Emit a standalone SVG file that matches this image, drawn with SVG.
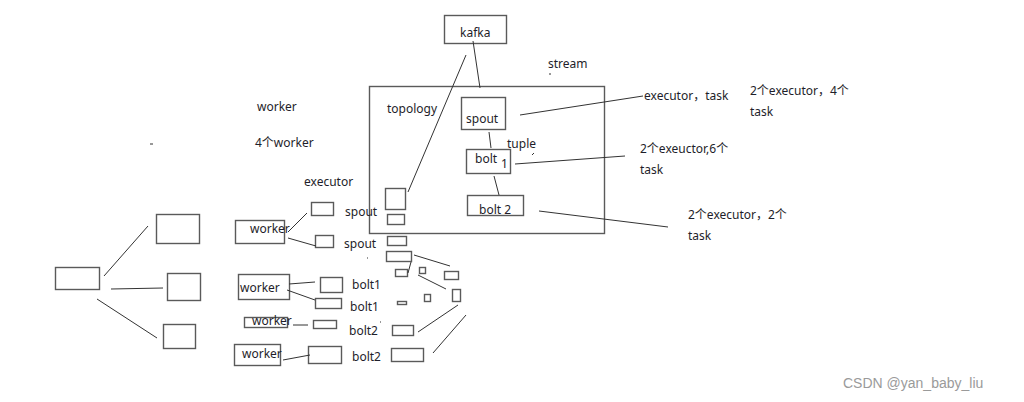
<svg xmlns="http://www.w3.org/2000/svg" width="1024" height="402" viewBox="0 0 1024 402">
<style>
rect.b{fill:none;stroke:#5a5a5a;stroke-width:1.4}
.c line{stroke:#333;stroke-width:1}
text{font-family:"Noto Sans","Noto Sans CJK SC",sans-serif;font-size:12px;fill:#1e1e2a}
.wm{font-family:"Liberation Sans",sans-serif;font-size:14px;fill:#9a9a9a}
</style>
<rect width="1024" height="402" fill="#fff"/>
<g id="topology"><rect class="b" x="369.5" y="86.5" width="235" height="147"/><text x="387" y="113">topology</text></g>
<g id="kafka"><rect class="b" x="444.5" y="15.5" width="62" height="28"/><text x="460" y="37">kafka</text></g>
<g id="spout"><rect class="b" x="461.5" y="97.5" width="44" height="32"/><text x="466" y="123">spout</text></g>
<g id="bolt1"><rect class="b" x="466.5" y="149.5" width="44" height="24"/><text x="475" y="163">bolt</text><text x="501" y="168">1</text></g>
<g id="bolt2"><rect class="b" x="467.5" y="195.5" width="56" height="20"/><text x="479" y="214">bolt 2</text></g>
<g id="labels">
<text x="548" y="68">stream</text>
<text x="507" y="148">tuple</text>
<text x="644" y="100">executor，task</text>
<text x="750" y="95">2个executor，4个</text><text x="750" y="116">task</text>
<text x="640" y="153">2个exeuctor,6个</text><text x="640" y="174">task</text>
<text x="688" y="219">2个executor，2个</text><text x="688" y="240">task</text>
<text x="257" y="111">worker</text>
<text x="255" y="147">4个worker</text>
<text x="304" y="186">executor</text>
<text x="345" y="216">spout</text>
<text x="344" y="248">spout</text>
<text x="352" y="289">bolt1</text>
<text x="350" y="311">bolt1</text>
<text x="349" y="335">bolt2</text>
<text x="352" y="361">bolt2</text>
</g>
<g id="left-tree">
<rect class="b" x="55.5" y="267.5" width="44" height="22"/>
<rect class="b" x="156.5" y="214.5" width="43" height="29"/>
<rect class="b" x="167.5" y="273.5" width="33" height="27"/>
<rect class="b" x="163.5" y="324.5" width="32" height="24"/>
</g>
<g id="workers">
<rect class="b" x="235.5" y="220.5" width="49" height="23"/><text x="250" y="233">worker</text>
<rect class="b" x="238.5" y="274.5" width="51" height="25"/><text x="240" y="292">worker</text>
<rect class="b" x="244.5" y="317.5" width="43" height="10"/><text x="252" y="325">worker</text>
<rect class="b" x="234.5" y="344.5" width="46" height="21"/><text x="242" y="358">worker</text>
</g>
<g id="executors">
<rect class="b" x="311.5" y="202.5" width="22" height="13"/>
<rect class="b" x="315.5" y="235.5" width="18" height="12"/>
<rect class="b" x="320.5" y="277.5" width="22" height="15"/>
<rect class="b" x="315.5" y="298.5" width="26" height="10"/>
<rect class="b" x="313.5" y="320.5" width="23" height="8"/>
<rect class="b" x="308.5" y="346.5" width="33" height="17"/>
</g>
<g id="tasks">
<rect class="b" x="385.5" y="188.5" width="20" height="21"/>
<rect class="b" x="387.5" y="214.5" width="17" height="10"/>
<rect class="b" x="387.5" y="236.5" width="19" height="9"/>
<rect class="b" x="386.5" y="251.5" width="25" height="10"/>
<rect class="b" x="395.5" y="269.5" width="12" height="7"/>
<rect class="b" x="419.5" y="267.5" width="6" height="6"/>
<rect class="b" x="444.5" y="271.5" width="14" height="8"/>
<rect class="b" x="452.5" y="289.5" width="8" height="12"/>
<rect class="b" x="424.5" y="294.5" width="6" height="7"/>
<rect class="b" x="397.5" y="301.5" width="9" height="3"/>
<rect class="b" x="392.5" y="325.5" width="21" height="10"/>
<rect class="b" x="391.5" y="348.5" width="32" height="13"/>
</g>
<g class="c" id="connectors">
<line x1="473" y1="41" x2="480" y2="88"/>
<line x1="466" y1="55" x2="408" y2="192"/>
<line x1="489" y1="132" x2="491" y2="148"/>
<line x1="494" y1="176" x2="499" y2="195"/>
<line x1="520" y1="115" x2="643" y2="96"/>
<line x1="515" y1="164" x2="625" y2="156"/>
<line x1="539" y1="211" x2="668" y2="227"/>
<line x1="104" y1="276" x2="148" y2="226"/>
<line x1="111" y1="289" x2="163" y2="288"/>
<line x1="97" y1="299" x2="157" y2="338"/>
<line x1="288" y1="232" x2="307" y2="213"/>
<line x1="288" y1="238" x2="316" y2="246"/>
<line x1="289" y1="284" x2="315" y2="282"/>
<line x1="287" y1="290" x2="315" y2="300"/>
<line x1="293" y1="325" x2="308" y2="325"/>
<line x1="283" y1="360" x2="310" y2="355"/>
<line x1="414" y1="255" x2="450" y2="266"/>
<line x1="411" y1="262" x2="408" y2="273"/>
<line x1="418" y1="275" x2="446" y2="289"/>
<line x1="458" y1="305" x2="418" y2="332"/>
<line x1="466" y1="315" x2="433" y2="353"/>
<line x1="150" y1="144" x2="153" y2="144"/>
<line x1="549" y1="74" x2="551" y2="74"/>
<line x1="532" y1="155" x2="534" y2="153"/>
<line x1="367" y1="258" x2="368" y2="258"/>
<line x1="380" y1="322" x2="381" y2="322"/>
</g>
<text class="wm" x="843" y="388">CSDN @yan_baby_liu</text>
</svg>
